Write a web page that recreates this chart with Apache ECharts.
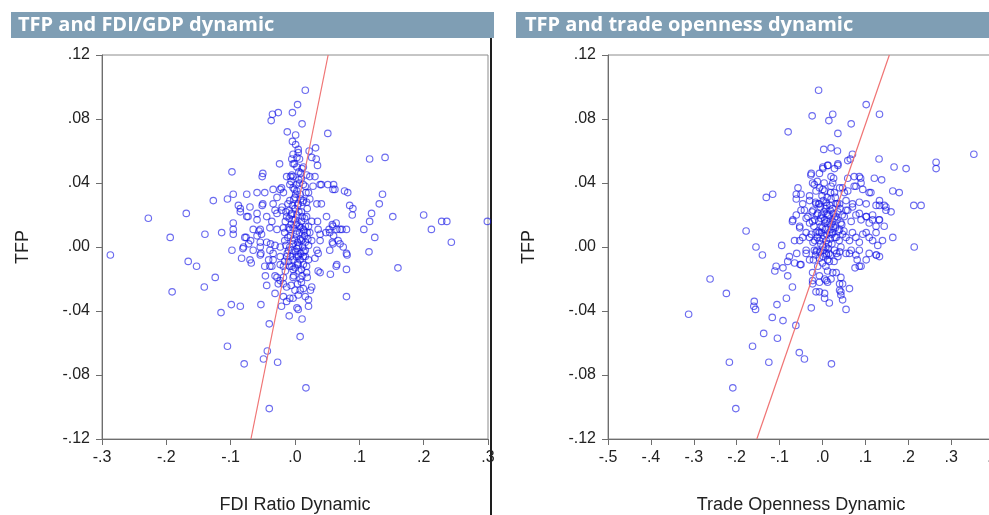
<!DOCTYPE html>
<html>
<head>
<meta charset="utf-8">
<script src="https://cdn.jsdelivr.net/npm/echarts@6/dist/echarts.min.js"></script>
<style>
  html, body { margin: 0; padding: 0; background: #fff; }
  #chart { width: 989px; height: 515px; }
</style>
</head>
<body>
<div id="chart"></div>
<script>
// Panel titles and axis names
const panelTitles = ['TFP and FDI/GDP dynamic', 'TFP and trade openness dynamic'];
const xNames = ['FDI Ratio Dynamic', 'Trade Openness Dynamic'];
const yName = 'TFP';

// Axis ranges: [min, max, interval]
const yRange = [-0.12, 0.12, 0.04];
const fdiRange = [-0.3, 0.3, 0.1];
const tradeRange = [-0.5, 0.4, 0.1];

// FDI/GDP dynamic vs TFP observations [x, y]
const fdiTfp = [
  [-0.287,-0.005],[-0.228,0.018],[-0.194,0.006],[-0.191,-0.028],[-0.169,0.021],[-0.166,-0.009],
  [-0.153,-0.012],[-0.141,-0.025],[-0.140,0.008],[-0.127,0.029],[-0.124,-0.019],[-0.115,-0.041],
  [-0.114,0.009],[-0.105,-0.062],[-0.105,0.030],[-0.099,-0.036],[-0.098,0.047],[-0.098,-0.002],
  [-0.096,0.033],[-0.096,0.015],[-0.096,0.011],[-0.096,0.008],[-0.088,0.026],[-0.085,0.022],
  [-0.085,-0.037],[-0.085,0.024],[-0.083,-0.007],[-0.081,-0.001],[-0.079,-0.073],
  [-0.080,0.000],[-0.078,0.006],[-0.076,0.006],[-0.075,0.033],[-0.075,0.019],[-0.073,0.019],
  [-0.072,0.002],[-0.070,0.025],[-0.070,-0.008],[-0.069,0.004],[-0.068,-0.010],[-0.065,0.011],
  [-0.065,-0.002],[-0.059,0.021],[-0.059,0.034],[-0.059,0.007],[-0.059,0.017],[-0.056,0.010],
  [-0.054,0.003],[-0.054,0.000],[-0.054,-0.005],[-0.054,0.011],[-0.053,-0.036],[-0.053,-0.004],
  [-0.052,0.008],[-0.051,0.026],[-0.051,0.044],[-0.050,0.046],[-0.050,0.027],[-0.049,-0.070],
  [-0.047,0.034],[-0.047,-0.012],[-0.046,-0.018],[-0.044,0.019],[-0.044,0.003],[-0.044,-0.024],
  [-0.043,-0.065],[-0.041,-0.008],[-0.040,-0.048],[-0.040,-0.101],[-0.039,0.012],[-0.039,-0.002],
  [-0.039,-0.012],[-0.038,0.002],[-0.037,0.079],[-0.036,0.016],[-0.036,-0.012],[-0.035,0.083],
  [-0.034,0.036],[-0.034,0.027],[-0.034,-0.004],[-0.034,-0.008],[-0.031,0.023],[-0.031,0.001],
  [-0.031,-0.018],[-0.031,-0.029],
  [-0.028,0.031],[-0.028,0.021],[-0.028,0.011],[-0.028,-0.019],[-0.027,-0.072],[-0.026,0.084],
  [-0.026,-0.023],[-0.024,0.052],[-0.023,0.036],[-0.023,0.000],[-0.023,-0.006],[-0.023,-0.011],
  [-0.023,-0.021],[-0.021,0.037],[-0.021,0.023],[-0.021,-0.037],[-0.020,0.025],[-0.018,0.034],
  [-0.018,0.012],[-0.018,-0.019],[-0.018,-0.023],[-0.018,-0.031],[-0.018,-0.012],[-0.016,0.004],
  [-0.016,0.009],[-0.015,0.016],[-0.015,-0.015],[-0.014,0.001],[-0.013,0.044],[-0.013,0.019],
  [-0.013,-0.006],[-0.013,-0.025],[-0.013,-0.034],[-0.012,0.072],[-0.012,-0.004],[-0.011,0.027],
  [-0.010,-0.002],[-0.010,0.012],[-0.009,-0.043],[-0.009,0.018],[-0.008,0.039],[-0.008,0.029],
  [-0.008,0.011],[-0.008,-0.012],[-0.008,-0.032],[-0.008,0.000],[-0.007,0.044],[-0.007,0.007],
  [-0.006,0.020],[-0.006,0.041],[-0.005,0.055],[-0.005,0.021],[-0.005,0.045],[-0.005,-0.012],
  [-0.004,0.084],[-0.004,0.004],[-0.004,0.066],[-0.003,0.058],[-0.003,0.052],[-0.003,0.037],
  [-0.003,0.017],[-0.003,0.002],[-0.003,-0.008],[-0.003,-0.014],[-0.003,-0.019],[-0.003,-0.032],
  [-0.003,0.012],[-0.002,0.030],[-0.002,-0.018],[-0.001,0.036],
  [0.000,0.031],[0.000,0.017],[0.000,0.024],[0.000,-0.027],[0.001,-0.003],[0.001,0.070],
  [0.002,0.008],[0.003,0.056],[0.003,0.035],[0.003,0.015],[0.003,0.010],[0.003,0.020],
  [0.003,-0.001],[0.003,-0.038],[0.004,0.089],[0.004,0.026],[0.004,-0.010],[0.005,0.061],
  [0.005,0.059],[0.005,0.027],[0.005,0.000],[0.005,-0.005],[0.005,-0.011],[0.005,-0.039],
  [0.005,-0.030],[0.005,-0.006],[0.006,0.042],[0.006,0.047],[0.006,0.001],[0.007,0.013],
  [0.007,0.040],[0.008,0.033],[0.008,0.005],[0.008,-0.020],[0.008,-0.027],[0.008,-0.056],
  [0.009,-0.004],[0.010,0.043],[0.010,0.022],[0.010,0.016],[0.010,0.004],[0.010,-0.014],
  [0.010,-0.022],[0.011,0.077],[0.011,0.049],[0.011,-0.045],[0.012,0.005],[0.012,0.028],
  [0.013,0.050],[0.013,0.029],[0.013,0.011],[0.013,-0.006],[0.013,-0.011],[0.013,0.039],
  [0.014,0.010],[0.015,0.018],[0.016,0.098],[0.016,0.038],[0.016,0.003],[0.016,-0.002],
  [0.016,-0.031],[0.016,-0.006],[0.017,-0.088],[0.018,0.045],[0.018,0.019],[0.018,0.028],
  [0.018,-0.012],[0.018,-0.016],[0.019,-0.019],[0.019,0.009],[0.021,0.034],[0.021,0.013],
  [0.021,0.001],[0.021,-0.008],[0.021,-0.037],[0.021,-0.033],[0.022,0.060],[0.023,0.044],
  [0.023,0.030],[0.023,0.009],[0.024,-0.027],[0.026,0.056],[0.026,0.016],[0.026,0.004],
  [0.026,-0.025],[0.028,0.038],[0.031,0.044],[0.031,-0.007],[0.032,0.062],[0.033,0.055],
  [0.034,0.027],[0.034,-0.002],[0.035,0.051],[0.035,0.016],[0.036,0.011],[0.036,-0.004],
  [0.036,-0.015],[0.039,0.039],[0.039,0.008],[0.039,0.004],[0.039,-0.016],
  [0.041,0.039],[0.041,0.027],[0.048,0.009],[0.049,0.019],[0.051,0.039],[0.051,0.071],
  [0.053,0.011],[0.054,0.009],[0.054,-0.002],[0.055,-0.017],[0.058,0.014],[0.058,0.003],
  [0.059,0.036],[0.059,0.013],[0.059,0.002],[0.060,0.039],[0.060,0.007],[0.062,0.036],
  [0.064,0.015],[0.064,-0.012],[0.065,0.011],[0.065,-0.011],[0.067,0.004],[0.070,0.011],
  [0.070,0.002],[0.073,0.011],[0.075,0.000],[0.077,0.035],[0.080,0.011],[0.080,-0.004],
  [0.080,-0.014],[0.080,-0.031],[0.081,-0.005],[0.082,0.034],[0.085,0.026],[0.089,0.020],
  [0.090,0.024],[0.107,0.011],[0.115,-0.003],[0.116,0.055],[0.116,0.016],[0.119,0.021],
  [0.124,0.006],[0.131,0.027],[0.136,0.033],[0.140,0.056],[0.152,0.019],[0.160,-0.013],
  [0.200,0.020],[0.212,0.011],[0.228,0.016],[0.236,0.016],[0.243,0.003],[0.299,0.016],
  // dense centre of the cloud
  [0.001,0.033],[0.009,0.030],[-0.004,0.026],[0.006,0.022],[-0.009,0.023],[0.011,0.019],
  [0.002,0.014],[-0.006,0.014],[0.009,0.012],[0.015,0.007],[-0.001,0.005],[0.007,0.009],
  [-0.011,0.006],[0.004,0.003],[0.012,0.000],[-0.005,-0.002],[0.002,-0.006],[0.008,-0.008],
  [-0.007,-0.006],[0.014,-0.003],[0.000,-0.013],[0.006,-0.015],[-0.010,-0.009],[0.011,-0.018],
  [0.002,0.039],[-0.003,0.044],[0.009,0.046],[0.003,0.050],[0.019,0.024],[-0.014,0.022],
  [0.016,0.013],[0.020,0.005],[-0.016,-0.009],[0.004,-0.023],[-0.006,-0.024],[0.013,-0.026],
  [0.001,0.064],[0.007,0.055],[-0.001,0.052],[0.017,0.034]
];

// Trade openness dynamic vs TFP observations [x, y]
const tradeTfp = [
  [-0.312,-0.042],[-0.262,-0.020],[-0.224,-0.029],[-0.217,-0.072],[-0.209,-0.088],[-0.202,-0.101],
  [-0.178,0.010],[-0.163,-0.062],[-0.159,-0.034],[-0.160,-0.037],[-0.156,-0.039],[-0.155,0.000],
  [-0.140,-0.005],[-0.137,-0.054],[-0.131,0.031],[-0.125,-0.072],[-0.116,0.033],[-0.117,-0.044],
  [-0.111,-0.015],[-0.108,-0.012],[-0.106,-0.036],[-0.105,-0.057],[-0.095,0.001],[-0.092,-0.046],
  [-0.092,-0.013],[-0.084,-0.032],[-0.081,-0.018],[-0.081,-0.009],[-0.080,0.072],[-0.077,-0.006],
  [-0.070,-0.025],[-0.065,-0.010],[-0.062,-0.049],[-0.060,-0.004],[-0.057,0.037],[-0.061,0.033],
  [-0.054,-0.066],[-0.052,-0.011],[-0.042,-0.070],[-0.026,-0.038],[0.021,-0.073],
  [-0.015,-0.028],[-0.007,-0.028],[0.005,-0.032],[0.016,-0.035],[0.055,-0.039],[0.063,-0.026],
  [0.047,-0.033],[0.043,-0.030],[0.040,-0.027],[-0.023,-0.021],[-0.007,-0.022],[0.009,-0.021],
  [0.020,-0.020],[0.032,-0.016],[0.043,-0.019],[0.047,-0.023],[0.076,-0.013],[0.090,-0.012],
  [0.081,-0.008],[0.126,-0.005],
  [-0.009,0.098],[0.102,0.089],[0.133,0.083],[-0.024,0.082],[0.024,0.083],[0.015,0.079],
  [0.067,0.077],[0.036,0.071],[0.003,0.061],[0.020,0.062],[0.035,0.060],[0.059,0.054],
  [0.070,0.058],[0.065,0.055],[0.013,0.051],[0.001,0.049],[-0.007,0.046],[0.028,0.049],
  [0.036,0.051],[-0.027,0.045],[0.020,0.044],[0.059,0.043],[0.074,0.044],[0.089,0.043],
  [0.121,0.043],[0.138,0.042],[0.132,0.055],[0.167,0.050],[0.195,0.049],
  [-0.030,0.032],[-0.019,0.039],[-0.007,0.037],[0.005,0.035],[0.020,0.038],[0.028,0.034],
  [0.047,0.037],[0.059,0.035],[0.078,0.038],[0.094,0.036],[0.113,0.034],[0.133,0.026],
  [0.148,0.025],[0.160,0.022],[0.164,0.035],[0.179,0.034],[0.213,0.026],[0.214,0.000],
  [0.164,0.006],[0.230,0.026],[0.265,0.053],[0.265,0.049],[0.353,0.058],
  [-0.070,0.016],[-0.061,0.020],[-0.050,0.023],[-0.053,0.013],[-0.038,0.018],[-0.022,0.023],
  [-0.007,0.027],[0.009,0.021],[0.024,0.024],[0.040,0.027],[0.055,0.023],[0.070,0.025],
  [0.086,0.021],[0.102,0.019],[0.117,0.017],[0.132,0.017],[0.144,0.013],[0.148,0.023],
  [-0.053,0.004],[-0.038,0.009],[-0.022,0.003],[-0.007,0.009],[0.009,0.004],[0.024,0.009],
  [0.040,0.011],[0.055,0.006],[0.070,0.009],[0.086,0.003],[0.102,0.009],[0.117,0.004],
  [0.129,0.001],[-0.038,-0.002],[-0.015,-0.003],[0.009,-0.004],[0.040,-0.003],[0.063,-0.004],
  [0.086,-0.002],[0.109,-0.004],
  [0.001,0.050],[0.012,0.051],[0.036,0.052],[-0.026,0.046],[0.086,0.044],
  [-0.050,0.033],[-0.023,0.040],[-0.015,0.035],[0.001,0.036],[0.024,0.040],[0.040,0.037],
  [0.051,0.034],[0.074,0.038],[0.090,0.040],[0.109,0.034],[0.133,0.029],
  [-0.061,0.030],[-0.046,0.027],[-0.030,0.029],[-0.015,0.027],[0.009,0.028],[0.020,0.030],
  [0.032,0.027],[0.055,0.029],[0.070,0.027],[0.086,0.028],[0.102,0.027],[0.125,0.026],
  [0.144,0.026],
  [-0.069,0.017],[-0.053,0.012],[-0.042,0.023],[-0.034,0.019],[-0.023,0.016],[-0.011,0.021],
  [-0.003,0.013],[0.005,0.017],[0.012,0.020],[0.020,0.014],[0.028,0.018],[0.036,0.022],
  [0.043,0.015],[0.051,0.019],[0.059,0.023],[0.067,0.016],[0.078,0.020],[0.090,0.017],
  [0.102,0.019],[0.109,0.015],[0.117,0.020],[0.125,0.013],[0.133,0.017],
  [-0.046,0.006],[-0.030,0.006],[-0.015,0.009],[0.001,0.005],[0.016,0.009],[0.032,0.006],
  [0.047,0.008],[0.063,0.004],[0.078,0.006],[0.094,0.008],[0.109,0.006],[0.125,0.009],
  [0.140,0.004],[-0.065,0.004],
  [-0.050,-0.011],[-0.038,-0.004],[-0.030,-0.008],[-0.019,-0.002],[-0.007,-0.007],[0.001,0.000],
  [0.009,-0.005],[0.016,-0.009],[0.028,-0.002],[0.036,-0.006],[0.043,0.000],[0.055,-0.004],
  [0.067,-0.002],[0.078,-0.005],[0.086,-0.012],[0.102,-0.008],[0.125,-0.005],[0.133,-0.006],
  [-0.023,-0.016],[-0.007,-0.018],[0.005,-0.020],[0.012,-0.022],[0.024,-0.016],[0.040,-0.023],
  [-0.023,-0.023],[0.005,-0.029],[0.043,-0.028],
  [0.000,0.012],[0.006,0.015],[-0.010,0.010],[0.015,0.020],[-0.004,0.002],[0.010,0.008],
  [0.020,0.011],[-0.018,0.004],[0.003,-0.002],[0.014,0.002],[-0.008,0.016],[0.024,0.016],
  [0.007,0.024],[-0.013,0.020],[0.030,0.012],[0.018,0.005],[-0.002,0.020],[0.011,0.031],
  [-0.020,0.013],[0.026,0.021],[0.034,0.017],[0.004,0.007],[-0.006,-0.003],[0.013,-0.001],
  [-0.016,-0.005],[0.022,0.002],[0.000,-0.010],[0.008,-0.012],[-0.011,-0.012],[0.017,0.026],
  [-0.026,0.008],[0.029,0.006],[0.002,0.029],[-0.005,0.025],[0.038,0.010],[0.012,-0.008],
  [-0.021,-0.008],[0.019,-0.005],[0.045,0.014],[-0.030,0.015],
  // dense centre of the cloud
  [-0.004,0.018],[0.004,0.022],[0.011,0.016],[0.018,0.023],[0.025,0.013],[-0.012,0.006],
  [-0.002,0.009],[0.007,0.011],[0.016,0.015],[0.031,0.019],[0.022,0.008],[-0.018,0.017],
  [-0.009,0.027],[0.010,0.026],[0.035,0.027],[0.002,-0.006],[0.015,-0.004],[-0.013,-0.002],
  [0.027,-0.009],[0.039,0.004],[0.046,0.020],[-0.024,0.022],[0.019,0.034],[0.030,0.031],
  [-0.001,0.032],[0.008,0.000],[-0.007,0.004],[0.033,-0.004],[0.050,0.010],[0.012,-0.015],
  [-0.016,0.028],[0.041,0.024],[0.004,0.040],[0.026,0.043],[-0.012,0.041]
];

// Fitted regression lines, end points [x, y] at the TFP axis limits
const fdiFit = [[-0.0685,-0.12],[0.0515,0.12]];
const tradeFit = [[-0.153,-0.12],[0.156,0.12]];

const axisColor = '#6e6e6e';
const labelColor = '#222';
const labelFont = 'Liberation Sans';

function tickFormatter(decimals) {
  return function (v) {
    if (Math.abs(v) < 1e-9) v = 0;
    return v.toFixed(decimals).replace(/^(-?)0\./, '$1.');
  };
}

function makeX(gridIndex, range, name) {
  return {
    gridIndex, type: 'value', min: range[0], max: range[1], interval: range[2],
    name, nameLocation: 'middle', nameGap: 57,
    nameTextStyle: { fontSize: 18, color: labelColor, fontFamily: labelFont },
    axisLine: { show: true, onZero: false, lineStyle: { color: axisColor, width: 1 } },
    axisTick: { show: true, inside: false, length: 6, lineStyle: { color: axisColor } },
    axisLabel: { formatter: tickFormatter(1), fontSize: 16, color: labelColor, margin: 11,
                 fontFamily: labelFont, showMinLabel: true, showMaxLabel: true },
    splitLine: { show: false }
  };
}

function makeY(gridIndex) {
  return {
    gridIndex, type: 'value', min: yRange[0], max: yRange[1], interval: yRange[2],
    name: yName, nameLocation: 'middle', nameGap: 70, nameRotate: 90,
    nameTextStyle: { fontSize: 18, color: labelColor, fontFamily: labelFont },
    axisLine: { show: true, onZero: false, lineStyle: { color: axisColor, width: 1 } },
    axisTick: { show: true, inside: false, length: 6, lineStyle: { color: axisColor } },
    axisLabel: { formatter: tickFormatter(2), fontSize: 16, color: labelColor, margin: 12,
                 fontFamily: labelFont },
    splitLine: { show: false }
  };
}

const ringStyle = { color: 'rgba(0,0,0,0)', borderColor: 'rgba(20,20,230,0.78)', borderWidth: 1.15 };
const fitStyle = { color: '#f07474', width: 1.2 };

const chart = echarts.init(document.getElementById('chart'), null, { renderer: 'canvas' });
chart.setOption({
  animation: false,
  backgroundColor: '#fff',
  grid: [
    { left: 102, top: 55, width: 386, height: 384, show: true, borderColor: '#8c8c8c',
      borderWidth: 1, backgroundColor: 'transparent', containLabel: false, outerBoundsMode: 'none' },
    { left: 608, top: 55, width: 386, height: 384, show: true, borderColor: '#8c8c8c',
      borderWidth: 1, backgroundColor: 'transparent', containLabel: false, outerBoundsMode: 'none' }
  ],
  xAxis: [makeX(0, fdiRange, xNames[0]), makeX(1, tradeRange, xNames[1])],
  yAxis: [makeY(0), makeY(1)],
  series: [
    { type: 'scatter', xAxisIndex: 0, yAxisIndex: 0, data: fdiTfp, symbol: 'circle',
      symbolSize: 6.5, itemStyle: ringStyle, silent: true, z: 2 },
    { type: 'line', xAxisIndex: 0, yAxisIndex: 0, data: fdiFit, symbol: 'none',
      lineStyle: fitStyle, silent: true, z: 3, clip: true },
    { type: 'scatter', xAxisIndex: 1, yAxisIndex: 1, data: tradeTfp, symbol: 'circle',
      symbolSize: 6.5, itemStyle: ringStyle, silent: true, z: 2 },
    { type: 'line', xAxisIndex: 1, yAxisIndex: 1, data: tradeFit, symbol: 'none',
      lineStyle: fitStyle, silent: true, z: 3, clip: true }
  ],
  graphic: [
    { type: 'rect', shape: { x: 11, y: 12, width: 483, height: 26 }, style: { fill: '#7f9eb4' }, silent: true },
    { type: 'text', x: 18, y: 25, style: { text: panelTitles[0], fill: '#fff',
      font: 'bold 20px "Open Sans"', verticalAlign: 'middle' }, silent: true },
    { type: 'rect', shape: { x: 516, y: 12, width: 473, height: 26 }, style: { fill: '#7f9eb4' }, silent: true },
    { type: 'text', x: 525, y: 25, style: { text: panelTitles[1], fill: '#fff',
      font: 'bold 20px "Open Sans"', verticalAlign: 'middle' }, silent: true },
    { type: 'line', shape: { x1: 491, y1: 38, x2: 491, y2: 515 },
      style: { stroke: '#1e1e1e', lineWidth: 2 }, silent: true }
  ]
});
</script>
</body>
</html>
